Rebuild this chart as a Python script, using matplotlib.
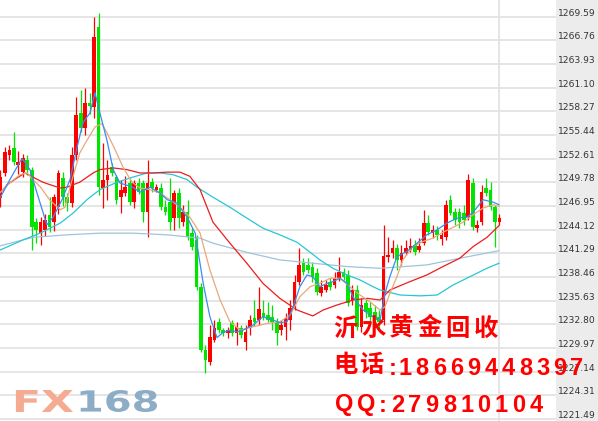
import matplotlib
matplotlib.use("Agg")
import matplotlib.pyplot as plt
import numpy as np
from matplotlib.textpath import TextPath
from matplotlib.patches import PathPatch
from matplotlib.font_manager import FontProperties
from matplotlib.transforms import Affine2D

W, H = 598, 421

# ---------------- data ----------------
opens = [1247.9, 1250.9, 1253.0, 1253.9, 1251.8, 1251.0, 1252.4, 1251.3, 1245.0, 1243.7,
         1244.1, 1245.9, 1245.0, 1246.8, 1250.3, 1248.0, 1247.3, 1253.0, 1258.1, 1256.3,
         1259.3, 1258.8, 1268.4, 1249.1, 1250.1, 1251.6, 1250.4, 1248.0, 1248.5, 1249.7,
         1247.4, 1249.7, 1249.7, 1246.2, 1249.8, 1248.9, 1249.1, 1246.8, 1247.4, 1245.5,
         1248.5, 1245.0, 1246.2, 1243.7, 1242.9, 1237.3, 1229.7, 1228.3, 1230.9, 1233.1,
         1232.1, 1231.8, 1232.9, 1231.8, 1232.4, 1230.7, 1232.4, 1233.6, 1233.3, 1234.2,
         1233.9, 1233.7, 1233.1, 1232.1, 1232.5, 1233.3, 1234.9, 1237.9, 1240.1, 1239.9,
         1239.7, 1238.9, 1236.6, 1236.9, 1237.9, 1237.5, 1238.3, 1239.1, 1238.7, 1235.7,
         1236.9, 1232.5, 1235.4, 1234.8, 1234.3, 1233.7, 1233.3, 1240.9, 1241.3, 1241.9,
         1240.5, 1241.3, 1241.7, 1242.3, 1241.7, 1242.5, 1244.9, 1243.7, 1244.1, 1243.0,
         1243.2, 1247.7, 1246.2, 1246.2, 1246.1, 1245.6, 1249.7, 1244.3, 1245.0, 1249.1,
         1248.9, 1246.8, 1245.0]
closes = [1250.4, 1253.4, 1253.6, 1252.2, 1252.2, 1252.7, 1251.2, 1244.4, 1244.1, 1245.0,
          1245.3, 1244.4, 1248.0, 1250.9, 1248.0, 1247.3, 1253.0, 1257.8, 1256.3, 1259.3,
          1258.9, 1267.2, 1249.2, 1250.1, 1250.7, 1250.9, 1247.7, 1248.9, 1249.2, 1247.4,
          1249.7, 1248.6, 1246.2, 1249.7, 1249.1, 1249.2, 1246.8, 1246.2, 1245.0, 1248.5,
          1245.5, 1246.2, 1243.2, 1242.1, 1237.3, 1229.7, 1228.5, 1231.3, 1232.4, 1232.1,
          1231.8, 1232.1, 1231.8, 1232.5, 1231.5, 1231.9, 1233.3, 1233.1, 1234.6, 1233.7,
          1233.3, 1233.1, 1231.8, 1232.7, 1233.6, 1234.8, 1237.9, 1239.9, 1239.1, 1239.3,
          1238.5, 1236.7, 1237.3, 1237.5, 1237.3, 1238.3, 1239.1, 1238.5, 1235.4, 1236.9,
          1232.5, 1235.1, 1234.3, 1233.7, 1233.3, 1233.1, 1241.0, 1241.1, 1241.9, 1240.5,
          1241.3, 1241.9, 1242.2, 1241.5, 1242.2, 1244.9, 1243.8, 1244.1, 1243.5, 1243.5,
          1247.1, 1246.1, 1245.3, 1245.0, 1245.3, 1250.1, 1244.4, 1244.7, 1248.6, 1248.5,
          1246.8, 1245.0, 1245.5]
highs = [1251.3, 1254.0, 1254.2, 1255.8, 1253.5, 1253.2, 1253.0, 1251.6, 1245.5, 1245.6,
         1246.0, 1248.0, 1248.4, 1251.3, 1251.0, 1248.5, 1254.0, 1260.0, 1260.8, 1261.1,
         1260.5, 1269.6, 1270.0, 1254.5, 1252.5, 1252.1, 1250.7, 1250.1, 1250.5, 1250.3,
         1250.1, 1250.3, 1250.1, 1252.5, 1250.3, 1249.6, 1249.7, 1247.7, 1250.3, 1248.9,
         1249.1, 1247.1, 1247.7, 1244.3, 1243.5, 1237.7, 1230.3, 1232.7, 1233.3, 1233.6,
         1232.4, 1232.5, 1233.3, 1233.1, 1232.7, 1232.7, 1233.9, 1235.7, 1237.3, 1235.7,
         1235.5, 1235.1, 1233.6, 1233.3, 1234.2, 1235.7, 1238.7, 1241.9, 1240.7, 1240.7,
         1240.3, 1239.5, 1238.1, 1238.1, 1238.3, 1239.1, 1240.9, 1239.5, 1239.3, 1237.5,
         1237.5, 1236.0, 1236.0, 1235.5, 1235.1, 1234.5, 1244.7, 1243.2, 1242.9, 1242.4,
         1242.3, 1242.9, 1243.1, 1242.9, 1243.1, 1246.5, 1245.9, 1244.7, 1244.6, 1244.1,
         1247.7, 1248.3, 1246.7, 1246.7, 1247.1, 1250.8, 1250.3, 1245.3, 1249.5, 1250.3,
         1249.8, 1247.1, 1246.0]
lows = [1246.8, 1250.5, 1252.4, 1251.9, 1250.8, 1250.4, 1250.6, 1241.7, 1242.5, 1242.3,
        1243.3, 1243.8, 1244.0, 1246.0, 1247.0, 1246.3, 1246.8, 1252.5, 1255.8, 1255.5,
        1258.0, 1257.5, 1248.3, 1246.7, 1247.7, 1250.5, 1247.2, 1246.1, 1248.2, 1247.1,
        1246.7, 1248.4, 1245.0, 1243.2, 1248.6, 1248.6, 1246.5, 1245.9, 1244.1, 1244.1,
        1244.3, 1244.6, 1242.9, 1241.7, 1236.9, 1229.5, 1227.0, 1227.9, 1230.7, 1231.8,
        1231.4, 1231.2, 1231.4, 1230.3, 1231.2, 1229.7, 1231.5, 1232.6, 1232.7, 1233.3,
        1233.1, 1232.1, 1230.3, 1231.5, 1230.9, 1232.1, 1234.5, 1237.5, 1238.7, 1238.9,
        1237.9, 1236.3, 1236.2, 1236.7, 1236.9, 1237.1, 1238.0, 1238.1, 1235.0, 1235.1,
        1232.1, 1231.9, 1233.6, 1233.1, 1232.4, 1232.1, 1232.7, 1240.3, 1240.7, 1239.3,
        1239.9, 1241.1, 1241.5, 1241.1, 1241.5, 1242.3, 1243.5, 1243.1, 1242.9, 1242.3,
        1242.9, 1245.9, 1244.7, 1244.3, 1244.7, 1245.3, 1244.1, 1243.8, 1244.7, 1248.2,
        1246.5, 1242.1, 1244.7]

# moving-average lines: (candle position, price)
ma_blue_pos = [0, 2.1, 3.7, 4.8, 5.5, 6.6, 8.2, 10.4, 11.8, 13.8, 15.6, 17.2, 18.5, 20.1, 21.2,
               22.3, 23.9, 25.3, 26.8, 29.7, 31.3, 33.6, 35.8, 37.4, 39.6, 41.9, 43.7, 45.5,
               47.0, 48.6, 49.9, 51.5, 53.1, 54.4, 56.7, 58.9, 61.2, 62.7, 64.3, 65.7, 67.2,
               68.8, 70.1, 71.7, 73.3, 74.6, 76.2, 77.8, 79.1, 81.4, 83.6, 85.2, 86.3, 87.4,
               89.0, 91.2, 93.5, 95.7, 98.0, 100.2, 102.5, 104.7, 106.1, 108.3, 110.6, 111.9]
ma_blue_val = [1248.0, 1250.1, 1251.6, 1252.6, 1252.2, 1251.3, 1248.5, 1244.7, 1245.6, 1247.7,
               1250.1, 1254.0, 1256.9, 1258.1, 1260.5, 1258.1, 1254.8, 1251.3, 1249.7, 1249.2,
               1248.6, 1249.2, 1248.5, 1247.7, 1247.3, 1245.6, 1243.7, 1237.7, 1233.7, 1231.2,
               1231.8, 1232.1, 1231.9, 1232.1, 1232.7, 1233.7, 1233.3, 1233.0, 1233.1, 1234.9,
               1237.3, 1238.7, 1238.5, 1237.3, 1237.7, 1237.9, 1238.3, 1237.7, 1236.1, 1234.5,
               1233.7, 1233.3, 1236.5, 1238.5, 1240.9, 1241.5, 1242.5, 1243.5, 1244.1, 1244.9,
               1245.5, 1245.6, 1246.2, 1247.7, 1247.4, 1247.1]
ma_tan_pos = [0, 2, 4.4, 6, 7.3, 9, 11, 13.4, 14.5, 15.6, 17.8, 19.4, 21.2, 22.8, 23.9, 25.7,
              27.5, 29.5, 31.3, 33.6, 35.8, 38, 40.3, 42.5, 44.8, 47, 49.3, 51.5, 53.8, 56.7,
              59.8, 62.7, 65, 67.2, 69.5, 71.7, 74, 76.2, 78.4, 80.7, 82.9, 85.2, 86.3, 87.4,
              89, 90.3, 92.6, 94.8, 97.1, 99.3, 101.6, 103.8, 106.1, 108.3, 110.6, 111.9]
ma_tan_val = [1248.6, 1249.7, 1250.7, 1250.9, 1250.1, 1249.2, 1247.7, 1246.5, 1246.8, 1249.2,
              1253.3, 1254.8, 1256.4, 1256.8, 1255.7, 1253.7, 1251.6, 1249.8, 1249.1, 1248.9,
              1248.5, 1247.7, 1246.8, 1245.6, 1243.7, 1239.3, 1235.7, 1233.1, 1232.1, 1232.5,
              1232.9, 1233.1, 1233.9, 1236.1, 1237.3, 1237.7, 1238.3, 1238.3, 1237.3, 1236.3,
              1235.5, 1234.5, 1234.9, 1236.5, 1238.5, 1240.5, 1242.1, 1242.7, 1243.1, 1243.8,
              1244.4, 1245.0, 1245.9, 1246.7, 1247.1, 1246.9]
ma_red_pos = [0, 1.5, 3.7, 5.5, 7.3, 9.5, 11.1, 13.4, 14.9, 17.8, 20.8, 22.3, 25.3, 28.4, 31.3,
              34.2, 37.4, 40.3, 42.5, 44.8, 47.7, 51.5, 55.3, 58.9, 62.7, 66.6, 70.1, 72.4,
              75.5, 79.1, 82.3, 85.2, 87.4, 91.9, 95.7, 99.3, 103.1, 106.1, 109.2, 111.9]
ma_red_val = [1248.5, 1249.5, 1250.3, 1250.9, 1250.4, 1249.8, 1249.5, 1249.1, 1249.2, 1249.8,
              1250.9, 1251.3, 1251.5, 1251.3, 1250.9, 1250.9, 1251.0, 1251.0, 1250.5, 1248.9,
              1245.0, 1242.5, 1240.1, 1237.7, 1235.9, 1234.5, 1233.8, 1234.5, 1235.1, 1235.7,
              1235.9, 1235.7, 1236.9, 1237.9, 1238.7, 1239.7, 1240.7, 1242.1, 1243.2, 1244.6]
ma_cyan_pos = [0, 5.1, 8.9, 13.4, 16.3, 19.4, 22.3, 26.2, 29.7, 32.9, 35.8, 38.7, 41.9, 44.1,
               47.7, 51.5, 55.3, 58.9, 62.7, 66.6, 68.8, 71.7, 74.6, 77.8, 80.7, 83.6, 85.2,
               89.7, 94.2, 98, 101.6, 105.4, 109.2, 111.9]
ma_cyan_val = [1241.7, 1242.9, 1243.7, 1244.9, 1246.1, 1247.7, 1248.9, 1249.8, 1250.4, 1250.9,
               1250.9, 1250.7, 1250.1, 1249.2, 1248.0, 1246.8, 1245.5, 1244.3, 1243.5, 1242.6,
               1241.7, 1240.5, 1239.5, 1238.7, 1238.1, 1237.3, 1236.9, 1236.3, 1236.2, 1236.3,
               1237.5, 1238.5, 1239.5, 1240.1]
ma_lblue_pos = [0, 7.3, 14.9, 22.3, 29.7, 37.4, 44.8, 47.7, 55.3, 62.7, 70.1, 77.8, 85.2,
                95.7, 103.1, 111.9]
ma_lblue_val = [1242.2, 1243.2, 1243.5, 1243.7, 1243.7, 1243.5, 1243.1, 1242.5, 1241.4, 1240.5,
                1240.1, 1239.7, 1239.5, 1239.9, 1240.7, 1241.6]

tick_labels = ["1269.59", "1266.76", "1263.93", "1261.10", "1258.27", "1255.44",
               "1252.61", "1249.78", "1246.95", "1244.12", "1241.29", "1238.46",
               "1235.63", "1232.80", "1229.97", "1227.14", "1224.31", "1221.49"]
watermark_lines = ["沂水黄金回收", "电话:18669448397", "QQ:279810104"]
logo_parts = ["FX", "168"]

# ---------------- figure ----------------
fig = plt.figure(figsize=(W / 100, H / 100), dpi=100)
fig.patch.set_facecolor("white")

ax = fig.add_axes([0, 0, 556 / W, 1])
ax.set_facecolor("white")
ax.set_xlim(-0.112, 124.69)
ax.set_ylim(1221.23, 1271.59)
for s in ax.spines.values():
    s.set_visible(False)
ax.set_xticks([])
ax.set_yticks([])

tick_vals = [float(t) for t in tick_labels]
for v in tick_vals:
    ax.axhline(v, color="#e3e3e3", lw=1.3, zorder=0)
ax.axvline(len(opens) - 1, color="#e3e3e3", lw=1.3, zorder=0)

o = np.array(opens)
c = np.array(closes)
hi = np.array(highs)
lo = np.array(lows)
x = np.arange(len(o))
up = c >= o
cols = np.where(up, "#ff0000", "#00e400")
ax.vlines(x, lo, hi, colors=cols, lw=0.9, zorder=2)
body = np.maximum(np.abs(c - o), 0.14)
ax.bar(x, body, bottom=np.minimum(o, c), width=0.82, color=cols, lw=0, zorder=3)

ax.plot(ma_lblue_pos, ma_lblue_val, color="#9fc3da", lw=0.9, zorder=4)
ax.plot(ma_cyan_pos, ma_cyan_val, color="#27c6d6", lw=0.9, zorder=4)
ax.plot(ma_red_pos, ma_red_val, color="#ee1c1c", lw=0.9, zorder=4)
ax.plot(ma_tan_pos, ma_tan_val, color="#e8a878", lw=0.9, zorder=4)
ax.plot(ma_blue_pos, ma_blue_val, color="#3b8cf0", lw=0.9, zorder=5)

# right price panel
ax2 = fig.add_axes([556 / W, 0, 42 / W, 1])
ax2.set_facecolor("#ececec")
ax2.set_xlim(0, 1)
ax2.set_ylim(1221.23, 1271.59)
for s in ax2.spines.values():
    s.set_visible(False)
ax2.set_xticks([])
ax2.set_yticks([])
for v, t in zip(tick_vals, tick_labels):
    ax2.text(0.04, v + 0.12, t, ha="left", va="baseline", fontsize=6.6,
             color="#333333", family="DejaVu Sans")

# overlay in pixel units (y downwards) for the logo
ov = fig.add_axes([0, 0, 1, 1], zorder=5)
ov.set_xlim(0, W)
ov.set_ylim(H, 0)
ov.patch.set_alpha(0)
ov.axis("off")

def draw_logo(text, x0, x1, ytop, ybot, color):
    tp = TextPath((0, 0), text, size=100,
                  prop=FontProperties(family="DejaVu Sans", weight="bold"))
    verts = tp.vertices
    gx0, gx1 = verts[:, 0].min(), verts[:, 0].max()
    gy0, gy1 = verts[:, 1].min(), verts[:, 1].max()
    sx = (x1 - x0) / (gx1 - gx0)
    sy = (ybot - ytop) / (gy1 - gy0)
    tr = Affine2D().translate(-gx0, -gy0).scale(sx, -sy).translate(x0, ybot)
    patch = PathPatch(tr.transform_path(tp), facecolor=color, edgecolor="none",
                      transform=ov.transData)
    ov.add_patch(patch)

draw_logo(logo_parts[0], 12, 73, 390, 412, "#f5ab92")
draw_logo(logo_parts[1], 76, 157, 390, 412, "#8dadc6")

# watermark, one glyph at a time (letter-spaced)
fam = ["Liberation Sans", "Noto Sans CJK SC", "DejaVu Sans"]
line_x = [
    [345, 373.2, 401.4, 429.6, 457.8, 486.0],
    [345, 371, 392.5] + [405 + 17.2 * k for k in range(11)],
    [344, 366, 382.5] + [397.5 + 17.3 * k for k in range(9)],
]
baselines = [338, 375, 411.5]
for text, xs, bl in zip(watermark_lines, line_x, baselines):
    for ch, xp in zip(text, xs):
        cjk = ord(ch) > 0x2E80
        yb = bl - 2.5 if cjk else bl
        fig.text(xp / W, 1 - yb / H, ch, ha="center", va="baseline",
                 fontsize=17.5 if cjk else 17, fontweight="bold",
                 color="#ff0000", family=fam, zorder=20)

fig.savefig("out.png", dpi=100)
